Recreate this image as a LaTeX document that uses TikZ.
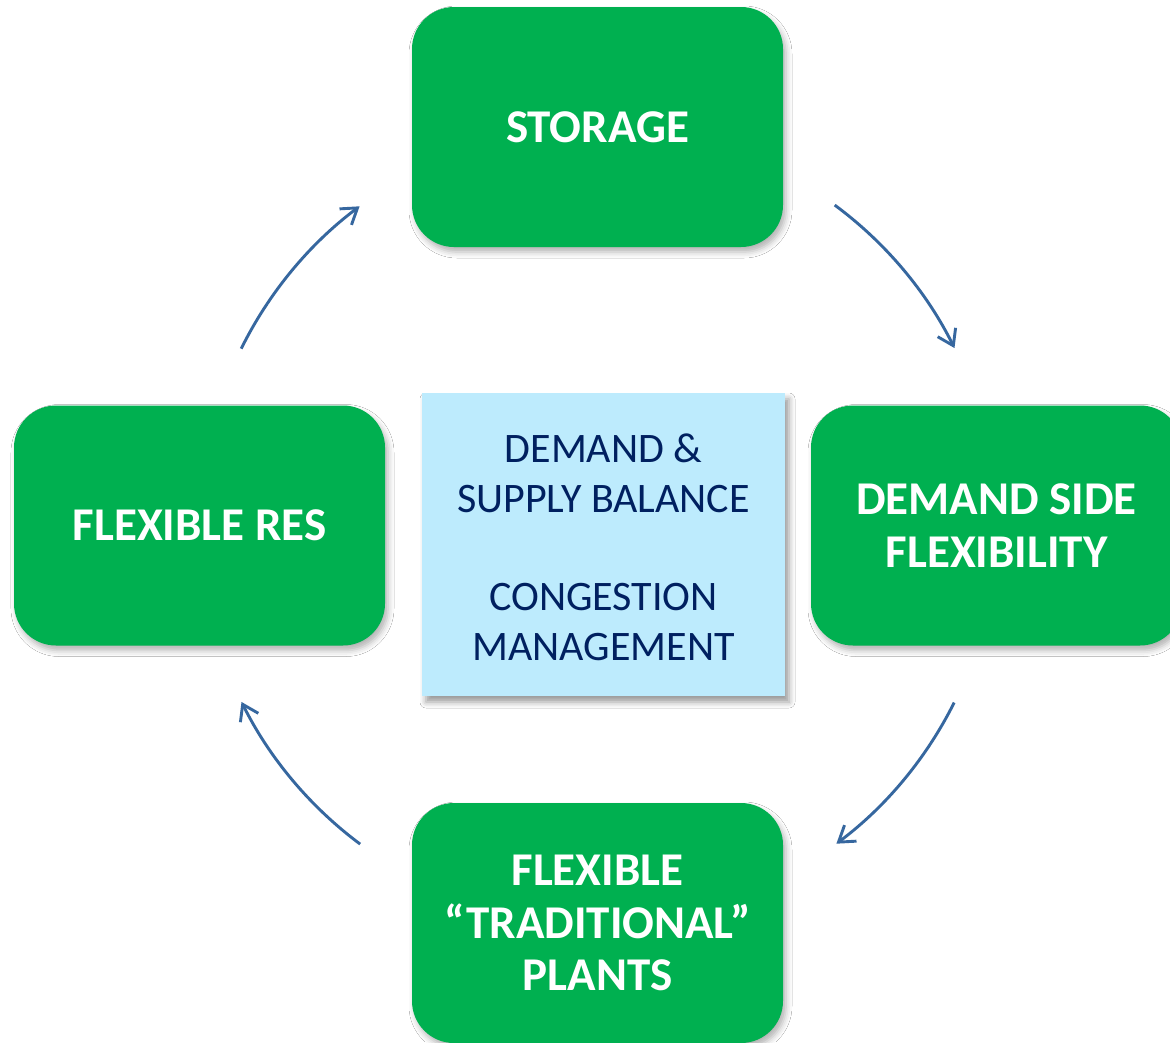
\documentclass[tikz,border=0pt]{standalone}
\usepackage{fontspec}
\setmainfont{Carlito}
\usetikzlibrary{arrows.meta,shadows.blur,calc}

\definecolor{boxgreen}{HTML}{00B050}
\definecolor{corefill}{HTML}{BDEBFD}
\definecolor{corenavy}{HTML}{002060}
\definecolor{cyclearrow}{HTML}{36679F}

\tikzset{
  lever/.style={
    rounded corners=42pt, fill=boxgreen, text=white, align=center,
    minimum width=371pt, minimum height=240pt, inner sep=0pt,
    font=\fontsize{47}{52.5}\selectfont\bfseries,
    blur shadow={shadow xshift=3pt, shadow yshift=-5pt,
                 shadow blur radius=6pt, shadow opacity=30}},
  core/.style={
    fill=corefill, text=corenavy, align=center,
    minimum width=363pt, minimum height=303pt, inner sep=0pt,
    font=\fontsize{42}{50}\selectfont,
    blur shadow={shadow xshift=4pt, shadow yshift=-6pt,
                 shadow blur radius=6pt, shadow opacity=40}},
  cycle/.style={draw=cyclearrow, line width=2.9pt,
    -{Straight Barb[length=15pt,width=20pt,line width=2.9pt]}}
}

\begin{document}
\begin{tikzpicture}[x=1pt,y=-1pt]
  \clip (0,0) rectangle (1170,1042);
  \fill[white] (0,0) rectangle (1170,1042);

  % the four flexibility sources
  \node[lever] (storage) at (597.5,127)   {STORAGE};
  \node[lever] (dsf)     at (996.5,525.5) {DEMAND SIDE\\FLEXIBILITY};
  \node[lever] (trad)    at (597.5,923)   {FLEXIBLE\\“TRADITIONAL”\\PLANTS};
  \node[lever] (res)     at (199.5,525.5) {FLEXIBLE RES};

  % central objectives
  \node[core] (goal) at (603.5,544.5) {};
  \node[text=corenavy, align=center, inner sep=0pt,
        font=\fontsize{42}{50}\selectfont] (goaltext) at (603.5,547)
    {DEMAND \&\\SUPPLY BALANCE\\[48pt]CONGESTION\\MANAGEMENT};

  % cycle arrows on a circle around the centre
  \coordinate (hub) at (598,525);
  \coordinate (a1) at ($(hub)+(-153.7:398)$);
  \coordinate (a2) at ($(hub)+(-53.5:398)$);
  \coordinate (a3) at ($(hub)+(26.5:398)$);
  \coordinate (a4) at ($(hub)+(126.7:398)$);

  \draw[cycle] (a1) arc[start angle=-153.7, end angle=-126.8, radius=398];
  \draw[cycle] (a2) arc[start angle=-53.5,  end angle=-26.4,  radius=398];
  \draw[cycle] (a3) arc[start angle=26.5,   end angle=53.2,   radius=398];
  \draw[cycle] (a4) arc[start angle=126.7,  end angle=153.6,  radius=398];
\end{tikzpicture}
\end{document}
